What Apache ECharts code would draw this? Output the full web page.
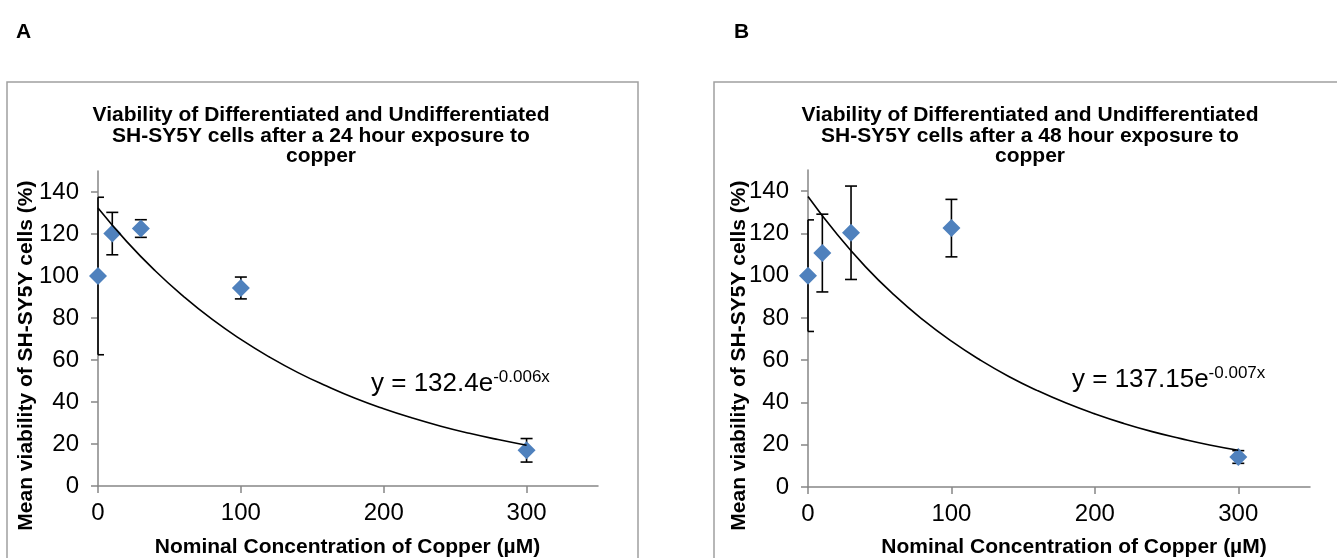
<!DOCTYPE html>
<html><head><meta charset="utf-8">
<script src="https://cdn.jsdelivr.net/npm/echarts@6/dist/echarts.min.js"></script>
<style>html,body{margin:0;padding:0;background:#fff}#c{width:1337px;height:558px}</style>
</head><body><div id="c"></div>
<script>
// ---- data ----
const concentrations = [0, 10, 30, 100, 300];
const viability24 = [100, 120.2, 122.6, 94.3, 17.0];
const error24 = [37.5, 10.1, 4.2, 5.2, 5.6];
const viability48 = [100, 110.7, 120.3, 122.5, 14.2];
const error48 = [26.4, 18.4, 22.1, 13.6, 3.0];
const trendX = [0, 20, 40, 60, 80, 100, 120, 140, 160, 180, 200, 220, 240, 260, 280, 300];
const trend24 = [132.4, 116.5, 102.5, 90.2, 79.3, 69.8, 61.4, 54.0, 47.6, 41.8, 36.8, 32.4, 28.5, 25.1, 22.1, 19.4];
const trend48 = [137.5, 119.8, 104.3, 90.9, 79.2, 69.0, 60.1, 52.3, 45.6, 39.7, 34.6, 30.1, 26.2, 22.9, 19.9, 17.4];
const xTicks = [0, 100, 200, 300];
const yTicks = [0, 20, 40, 60, 80, 100, 120, 140];
const panelLabels = ['A', 'B'];
const titles = [
  'Viability of Differentiated and Undifferentiated\nSH-SY5Y cells after a 24 hour exposure to\ncopper',
  'Viability of Differentiated and Undifferentiated\nSH-SY5Y cells after a 48 hour exposure to\ncopper'
];
const equations = [['y = 132.4e', '-0.006x'], ['y = 137.15e', '-0.007x']];
const xName = 'Nominal Concentration of Copper (µM)';
const yName = 'Mean viability of SH-SY5Y cells (%)';

// ---- layout ----
const FONT = '"Liberation Sans", Arial, sans-serif';
const AX = '#868686';
const grids = [
  {left: 98, top: 171, width: 500, height: 315},
  {left: 808, top: 170, width: 502, height: 317}
];
const frames = [{x: 7, y: 82, w: 631, h: 520}, {x: 714, y: 82, w: 660, h: 520}];
const titleCenters = [321, 1030];
const xNameCenters = [347.5, 1074];
const yNameX = [26, 739.5];
const labelX = [16, 734];
const eqPos = [[371, 369], [1072, 365]];

function axisX(i) {
  return {
    type: 'value', gridIndex: i, min: 0, max: 350, interval: 50,
    axisLine: {show: true, onZero: false, lineStyle: {color: AX, width: 1.5}},
    axisTick: {show: true, length: 7, customValues: xTicks, lineStyle: {color: AX, width: 1.5}},
    axisLabel: {customValues: xTicks, color: '#000', fontSize: 24, fontFamily: FONT, margin: 15},
    splitLine: {show: false}
  };
}
function axisY(i) {
  return {
    type: 'value', gridIndex: i, min: 0, max: 150, interval: 10,
    axisLine: {show: true, onZero: false, lineStyle: {color: AX, width: 1.5}},
    axisTick: {show: true, length: 7, customValues: yTicks, lineStyle: {color: AX, width: 1.5}},
    axisLabel: {customValues: yTicks, color: '#000', fontSize: 24, fontFamily: FONT, margin: 19},
    splitLine: {show: false}
  };
}
function errRender(params, api) {
  const x = api.value(0), y = api.value(1), e = api.value(2);
  const t = api.coord([x, y + e]);
  const b = api.coord([x, y - e]);
  const left = params.coordSys.x;
  const h = 6;
  const st = {stroke: '#000', lineWidth: 1.6};
  return {type: 'group', children: [
    {type: 'line', shape: {x1: t[0], y1: t[1], x2: b[0], y2: b[1]}, style: st},
    {type: 'line', shape: {x1: Math.max(left, t[0] - h), y1: t[1], x2: t[0] + h, y2: t[1]}, style: st},
    {type: 'line', shape: {x1: Math.max(left, b[0] - h), y1: b[1], x2: b[0] + h, y2: b[1]}, style: st}
  ]};
}
const datasets = [
  {v: viability24, e: error24, t: trend24},
  {v: viability48, e: error48, t: trend48}
];
const series = [];
datasets.forEach((d, i) => {
  series.push({
    type: 'custom', xAxisIndex: i, yAxisIndex: i, renderItem: errRender, z: 2,
    data: concentrations.map((c, k) => [c, d.v[k], d.e[k]]), silent: true
  });
  series.push({
    type: 'scatter', xAxisIndex: i, yAxisIndex: i, symbol: 'diamond', symbolSize: 18, z: 3,
    itemStyle: {color: '#4F81BD', opacity: 1}, clip: false,
    data: concentrations.map((c, k) => [c, d.v[k]])
  });
  series.push({
    type: 'line', xAxisIndex: i, yAxisIndex: i, smooth: true, showSymbol: false, symbol: 'none', z: 4,
    lineStyle: {color: '#000', width: 1.6}, clip: false,
    data: trendX.map((x, k) => [x, d.t[k]])
  });
});

const graphic = [];
frames.forEach(f => graphic.push({type: 'rect', shape: {x: f.x, y: f.y, width: f.w, height: f.h},
  style: {fill: 'none', stroke: '#a0a0a0', lineWidth: 1.5}, z: 0}));
[0, 1].forEach(i => {
  graphic.push({type: 'text', x: labelX[i], y: 32.5, style: {text: panelLabels[i], font: 'bold 21px ' + FONT,
    fill: '#000', align: 'left', verticalAlign: 'middle'}});
  graphic.push({type: 'text', x: xNameCenters[i], y: 547.5, style: {text: xName, font: 'bold 21px ' + FONT,
    fill: '#000', align: 'center', verticalAlign: 'middle'}});
  graphic.push({type: 'text', x: yNameX[i], y: 355.6, rotation: Math.PI / 2, style: {text: yName,
    font: 'bold 21px ' + FONT, fill: '#000', align: 'center', verticalAlign: 'middle'}});
  graphic.push({type: 'text', x: eqPos[i][0], y: eqPos[i][1], z: 10, style: {
    text: '{m|' + equations[i][0] + '}{s|' + equations[i][1] + '}', align: 'left', verticalAlign: 'top',
    rich: {
      m: {fontSize: 26, fontFamily: FONT, color: '#000', lineHeight: 28, verticalAlign: 'bottom'},
      s: {fontSize: 17, fontFamily: FONT, color: '#000', lineHeight: 17, verticalAlign: 'top'}
    }}});
});

const chart = echarts.init(document.getElementById('c'), null, {renderer: 'canvas'});
chart.setOption({
  animation: false,
  backgroundColor: '#fff',
  title: titles.map((t, i) => ({
    text: t, left: titleCenters[i], top: 105, textAlign: 'center', padding: 0,
    textStyle: {fontSize: 21, fontWeight: 'bold', fontFamily: FONT, color: '#000', lineHeight: 20.5}
  })),
  grid: grids.map(g => Object.assign({outerBoundsMode: 'none', containLabel: false}, g)),
  xAxis: [axisX(0), axisX(1)],
  yAxis: [axisY(0), axisY(1)],
  series: series,
  graphic: graphic
});
</script></body></html>
